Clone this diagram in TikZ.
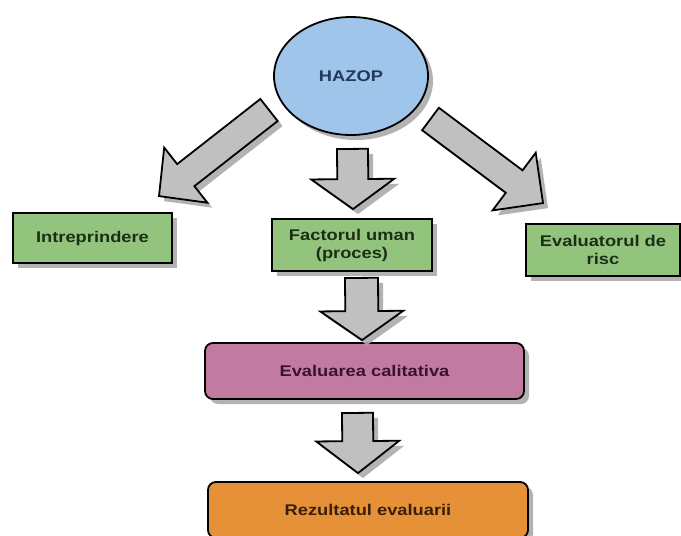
\documentclass[tikz,border=0pt]{standalone}
\usepackage{fontspec}
\setmainfont{Liberation Sans}[FakeStretch=1.18]
\usetikzlibrary{calc,shadows,shapes.geometric}

\definecolor{hazopblue}{HTML}{9FC5EA}
\definecolor{hazoptext}{HTML}{1F3A5C}
\definecolor{boxgreen}{HTML}{93C47D}
\definecolor{greentext}{HTML}{1C2E16}
\definecolor{boxpink}{HTML}{C27BA0}
\definecolor{pinktext}{HTML}{3A1230}
\definecolor{boxorange}{HTML}{E69138}
\definecolor{orangetext}{HTML}{3A1E08}
\definecolor{arrowgray}{HTML}{C0C0C0}
\definecolor{shadowgray}{HTML}{ABABAB}

\tikzset{
  softshadow/.style={drop shadow={shadow xshift=5pt, shadow yshift=-5pt, fill=shadowgray, opacity=0.9}},
  outline/.style={draw=black, line width=1.8pt},
  labeltext/.style={font=\fontsize{15.5}{18}\selectfont\bfseries, align=center, inner sep=0pt},
  greenbox/.style={rectangle, outline, softshadow, fill=boxgreen, labeltext, text=greentext},
  roundbox/.style={rectangle, rounded corners=8pt, outline, softshadow, labeltext},
  blockarr/.style={outline, fill=arrowgray, softshadow, line join=miter},
}

% block arrow: #1 tail centre, #2 tip, #3 shaft half-width, #4 head half-width, #5 head length
\newcommand\blockarrow[5]{%
  \path (#1) coordinate (ba-t) (#2) coordinate (ba-p);
  \path ($(ba-p)!#5!(ba-t)$) coordinate (ba-n);
  \filldraw[blockarr]
    ($(ba-t)!#3!90:(ba-p)$) -- ($(ba-n)!#3!-90:(ba-t)$) -- ($(ba-n)!#4!-90:(ba-t)$)
    -- (ba-p) -- ($(ba-n)!#4!90:(ba-t)$) -- ($(ba-n)!#3!90:(ba-t)$)
    -- ($(ba-t)!#3!-90:(ba-p)$) -- cycle;}

\begin{document}
\begin{tikzpicture}[x=1pt, y=-1pt]
  \useasboundingbox (0,0) rectangle (681,536);

  % nodes
  \node[ellipse, outline, softshadow, fill=hazopblue, minimum width=154pt, minimum height=118pt,
        labeltext, text=hazoptext] (hazop) at (351,76) {HAZOP};

  \node[greenbox, minimum width=159pt, minimum height=50pt] (intre) at (92.5,238) {Intreprindere};
  \node[greenbox, minimum width=160pt, minimum height=52pt] (factor) at (352,245) {Factorul uman\\(proces)};
  \node[greenbox, minimum width=154pt, minimum height=52pt] (evalr) at (603,250) {Evaluatorul de\\risc};

  \node[roundbox, fill=boxpink, minimum width=319pt, minimum height=56pt, text=pinktext]
        (calit) at (364.5,371) {Evaluarea calitativa};
  \node[roundbox, fill=boxorange, minimum width=320pt, minimum height=56pt, text=orangetext]
        (rezult) at (368,510) {Rezultatul evaluarii};

  % arrow end points, placed relative to the nodes they join
  \coordinate (lt) at ($(hazop.center)+(-82,34)$);
  \coordinate (lp) at ($(intre.north)+(66.5,-16)$);
  \coordinate (mt) at ($(hazop.south)+(1.5,13)$);
  \coordinate (mp) at ($(factor.north)+(1,-9)$);
  \coordinate (rt) at ($(hazop.center)+(79.5,43)$);
  \coordinate (rp) at ($(evalr.north)+(-60,-20)$);
  \coordinate (ct) at ($(factor.south)+(9.5,6)$);
  \coordinate (cp) at ($(calit.north)+(-2.5,-2)$);
  \coordinate (bt) at ($(calit.south)+(-7,13)$);
  \coordinate (bp) at ($(rezult.north)+(-10,-8)$);

  % block arrows
  \blockarrow{lt}{lp}{14pt}{35pt}{34pt}
  \blockarrow{mt}{mp}{15.5pt}{41.5pt}{30pt}
  \blockarrow{rt}{rp}{14pt}{36pt}{36pt}
  \blockarrow{ct}{cp}{16.5pt}{41.5pt}{29pt}
  \blockarrow{bt}{bp}{15.5pt}{41.5pt}{32pt}
\end{tikzpicture}
\end{document}
